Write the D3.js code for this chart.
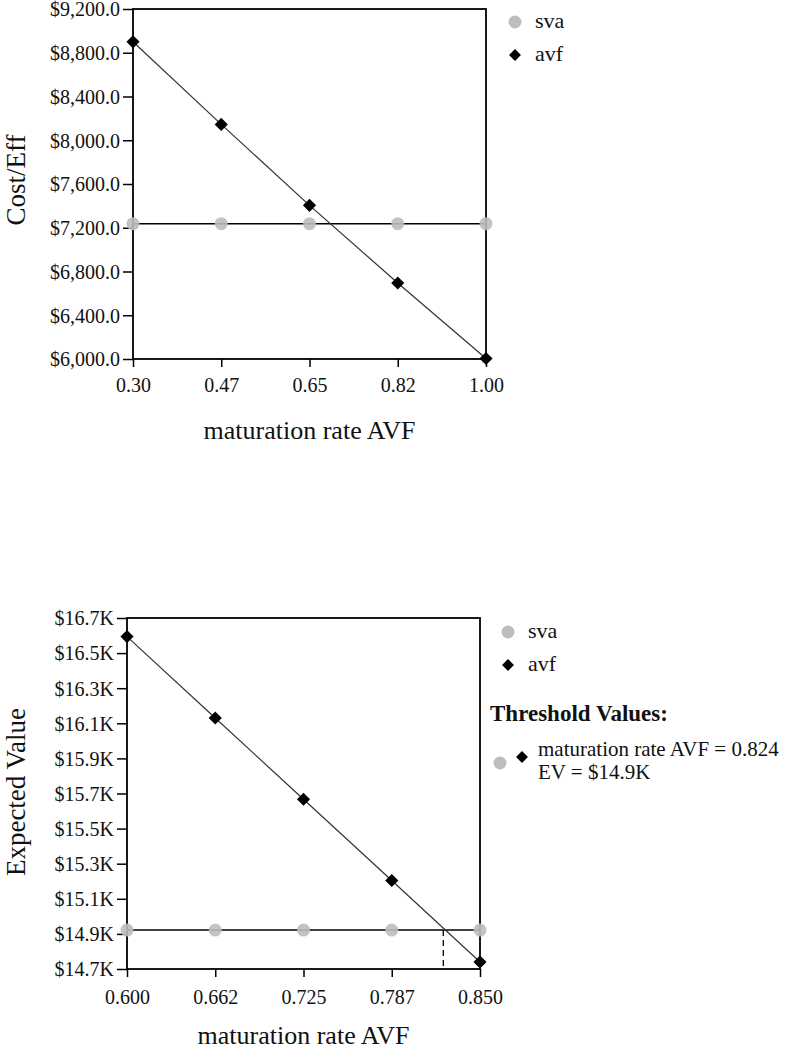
<!DOCTYPE html>
<html>
<head>
<meta charset="utf-8">
<script src="https://cdn.jsdelivr.net/npm/d3@7"></script>
<style>
  body { margin: 0; background: #fff; }
  svg text { font-family: "Liberation Serif", "Times New Roman", serif; fill: #111; }
</style>
</head>
<body>
<svg id="chart" width="795" height="1049"></svg>
<script>
// ---- data: top chart (Cost/Eff) ----
var topX = [0.30, 0.475, 0.65, 0.825, 1.00];
var topTickLabels = ["0.30", "0.47", "0.65", "0.82", "1.00"];
var topSva = [7237, 7237, 7237, 7237, 7237];
var topAvf = [8900, 8145, 7405, 6695, 6005];
var topYTicks = [6000, 6400, 6800, 7200, 7600, 8000, 8400, 8800, 9200];

// ---- data: bottom chart (Expected Value) ----
var botX = [0.600, 0.6625, 0.725, 0.7875, 0.850];
var botTickLabels = ["0.600", "0.662", "0.725", "0.787", "0.850"];
var botSva = [14922, 14922, 14922, 14922, 14922];
var botAvf = [16594, 16130, 15667, 15204, 14740];
var botYTicks = [14700, 14900, 15100, 15300, 15500, 15700, 15900, 16100, 16300, 16500, 16700];
var threshold = { x: 0.824, ev: 14922, label1: "maturation rate AVF = 0.824", label2: "EV = $14.9K" };

var series = ["sva", "avf"];
var grey = "#bdbdbd";
var serif = "'Liberation Serif', 'Times New Roman', serif";

var svg = d3.select("#chart");

function txt(sel, size) {
    return sel.style("font-family", serif).style("font-size", size + "px");
}

function panel(opt) {
    var x = d3.scaleLinear().domain(opt.xDomain).range([opt.left, opt.right]);
    var y = d3.scaleLinear().domain(opt.yDomain).range([opt.bottom, opt.top]);
    var g = svg.append("g");

    // y axis
    g.append("g")
        .attr("transform", "translate(" + opt.left + ",0)")
        .call(d3.axisLeft(y).tickValues(opt.yTicks).tickSize(10).tickFormat(opt.yFormat))
        .call(function(a) {
            a.select(".domain").remove();
            a.selectAll("line").attr("stroke", "#000").attr("stroke-width", 1.5);
            txt(a.selectAll("text"), 20).attr("x", -13).attr("dy", "0.34em");
        });

    // x axis
    g.append("g")
        .attr("transform", "translate(0," + opt.bottom + ")")
        .call(d3.axisBottom(x).tickValues(opt.xTicks).tickSize(8)
            .tickFormat(function(d, i) { return opt.xLabels[i]; }))
        .call(function(a) {
            a.select(".domain").remove();
            a.selectAll("line").attr("stroke", "#000").attr("stroke-width", 1.5);
            txt(a.selectAll("text"), 20).attr("y", opt.xLabelY).attr("dy", "0.71em");
        });

    // frame
    g.append("rect")
        .attr("x", opt.left).attr("y", opt.top)
        .attr("width", opt.right - opt.left).attr("height", opt.bottom - opt.top)
        .attr("fill", "none").attr("stroke", "#000").attr("stroke-width", 1.8);

    var line = d3.line().x(function(d) { return x(d[0]); }).y(function(d) { return y(d[1]); });
    var svaPts = d3.zip(opt.xs, opt.sva);
    var avfPts = d3.zip(opt.xs, opt.avf);

    // sva: flat line + grey dots
    g.append("path").datum(svaPts).attr("d", line)
        .attr("fill", "none").attr("stroke", "#000").attr("stroke-width", 1.5);
    g.selectAll(".sva").data(svaPts).enter().append("circle")
        .attr("class", "sva")
        .attr("cx", function(d) { return x(d[0]); })
        .attr("cy", function(d) { return y(d[1]); })
        .attr("r", 6.5).attr("fill", grey).attr("opacity", 0.9);

    // avf: sloped line + diamonds
    g.append("path").datum(avfPts).attr("d", line)
        .attr("fill", "none").attr("stroke", "#333").attr("stroke-width", 1.2);
    g.selectAll(".avf").data(avfPts).enter().append("path")
        .attr("class", "avf")
        .attr("transform", function(d) { return "translate(" + x(d[0]) + "," + y(d[1]) + ")"; })
        .attr("d", d3.symbol().type(d3.symbolDiamond2).size(110))
        .attr("fill", "#000");

    // axis titles
    txt(g.append("text"), 27)
        .attr("transform", "translate(" + opt.yTitleX + "," + opt.yTitleY + ") rotate(-90)")
        .attr("text-anchor", "middle").text(opt.yTitle);
    txt(g.append("text"), 26)
        .attr("x", (opt.left + opt.right) / 2).attr("y", opt.xTitleY)
        .attr("text-anchor", "middle").text("maturation rate AVF");

    // legend
    var lg = g.append("g").attr("transform", "translate(" + opt.legendX + "," + opt.legendY + ")");
    series.forEach(function(s, i) {
        var row = lg.append("g").attr("transform", "translate(0," + (i * 33) + ")");
        if (s === "sva") {
            row.append("circle").attr("r", 6.5).attr("fill", grey);
        } else {
            row.append("path").attr("d", d3.symbol().type(d3.symbolDiamond2).size(90)).attr("fill", "#000");
        }
        txt(row.append("text"), 22).attr("x", 20).attr("y", 6).text(s);
    });

    return { x: x, y: y, g: g };
}

panel({
    left: 133, right: 486, top: 9, bottom: 359,
    xDomain: [0.30, 1.00], yDomain: [6000, 9200],
    xs: topX, sva: topSva, avf: topAvf,
    xTicks: topX, xLabels: topTickLabels, yTicks: topYTicks,
    yFormat: function(d) { return "$" + d3.format(",.1f")(d); },
    yTitle: "Cost/Eff", yTitleX: 25, yTitleY: 180, xLabelY: 19, xTitleY: 439,
    legendX: 515, legendY: 22
});

var bot = panel({
    left: 127, right: 480, top: 618, bottom: 969,
    xDomain: [0.600, 0.850], yDomain: [14700, 16700],
    xs: botX, sva: botSva, avf: botAvf,
    xTicks: botX, xLabels: botTickLabels, yTicks: botYTicks,
    yFormat: function(d) { return "$" + (d / 1000).toFixed(1) + "K"; },
    yTitle: "Expected Value", yTitleX: 25, yTitleY: 792, xLabelY: 21, xTitleY: 1044,
    legendX: 508, legendY: 632
});

// threshold marker (dashed drop line)
bot.g.append("line")
    .attr("x1", bot.x(threshold.x)).attr("x2", bot.x(threshold.x))
    .attr("y1", bot.y(threshold.ev)).attr("y2", bot.y(14700))
    .attr("stroke", "#000").attr("stroke-width", 1.3).attr("stroke-dasharray", "6,4");

// threshold legend
var th = svg.append("g").attr("transform", "translate(490,0)");
txt(th.append("text"), 23).attr("x", 0).attr("y", 721)
    .style("font-weight", "bold").text("Threshold Values:");
th.append("circle").attr("cx", 10).attr("cy", 763).attr("r", 6.5).attr("fill", grey);
th.append("path").attr("transform", "translate(32,757)")
    .attr("d", d3.symbol().type(d3.symbolDiamond2).size(90)).attr("fill", "#000");
txt(th.append("text"), 21).attr("x", 48).attr("y", 756).text(threshold.label1);
txt(th.append("text"), 21).attr("x", 48).attr("y", 779).text(threshold.label2);
</script>
</body>
</html>
